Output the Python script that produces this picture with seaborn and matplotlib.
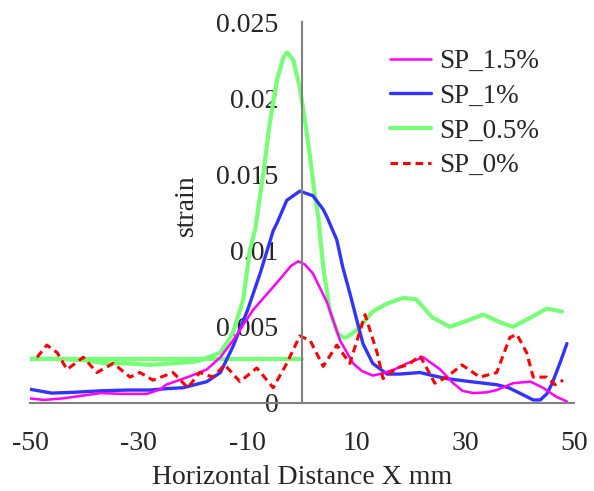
import numpy as np
import pandas as pd
import matplotlib
matplotlib.use("Agg")
import matplotlib.pyplot as plt
import seaborn as sns

# values
sp15_x = [-50, -47.5, -44, -40, -37, -33, -28.5, -26, -25, -21, -17.5, -15, -12.7, -9, -4.6, -2, -0.7, 0.5,
          2, 4.6, 7, 9.4, 11, 13, 14.3, 17, 19.3, 22.3, 25.4, 27.8, 29.5, 31.5, 34, 35.8, 38.8, 42, 44.3, 46.8, 48.7]
sp15_y = [0.0003, 0.0002, 0.0003, 0.0005, 0.00065, 0.0006, 0.0006, 0.0009, 0.0012, 0.0017, 0.0022, 0.003, 0.0041,
          0.0061, 0.0079, 0.009, 0.0093, 0.0091, 0.0085, 0.0066, 0.0041, 0.0026, 0.0021, 0.0018, 0.0019, 0.0022,
          0.0026, 0.003, 0.0022, 0.0013, 0.0008, 0.00065, 0.0007, 0.00085, 0.0013, 0.0014, 0.001, 0.0004, 0.0001]

sp1_x = [-50, -46, -42, -37, -32, -28, -24.5, -21.9, -17.5, -15, -12.7, -10, -7.7, -5.3, -4.6, -2.8, -0.4, 2,
         3.9, 4.6, 6.4, 7.5, 8.8, 10.1, 11.2, 13, 15.6, 18, 21.7, 24, 26.6, 31, 35.8, 38, 40, 42.5, 43.8, 45, 46,
         47.5, 48.7]
sp1_y = [0.0009, 0.00065, 0.0007, 0.0008, 0.00085, 0.00085, 0.00095, 0.001, 0.0014, 0.002, 0.0037, 0.0061, 0.0085,
         0.0113, 0.0118, 0.0133, 0.0139, 0.0136, 0.0127, 0.0122, 0.0107, 0.0089, 0.0072, 0.0054, 0.0039, 0.0026,
         0.0019, 0.0019, 0.002, 0.0018, 0.0016, 0.0014, 0.0012, 0.001, 0.00065, 0.0002, 0.0002, 0.0006, 0.0013,
         0.0027, 0.0039]

sp05_x = [-50, -45, -40, -36, -32, -28, -24, -20, -18.7, -15, -12.7, -10.8, -9.6, -8.6, -7.1, -5.9, -4.6, -3.4,
          -2.7, -1.6, -0.4, 0.6, 1.5, 2.4, 3, 3.9, 5.1, 6.5, 7.5, 8.2, 10.1, 13, 15.5, 18.6, 21, 24, 27.2, 30.3,
          33.3, 36.4, 38.8, 42, 45, 47.8]
sp05_y = [0.0029, 0.0029, 0.0028, 0.0026, 0.0026, 0.0025, 0.0026, 0.0027, 0.0028, 0.0033, 0.0046, 0.0068, 0.01,
          0.0114, 0.0151, 0.0184, 0.0212, 0.0227, 0.023, 0.0225, 0.0207, 0.0184, 0.0161, 0.0135, 0.0122, 0.0089,
          0.0061, 0.0046, 0.0043, 0.0043, 0.0048, 0.006, 0.0065, 0.0069, 0.0068, 0.0056, 0.005, 0.0054, 0.0058,
          0.0053, 0.005, 0.0056, 0.0062, 0.006]
sp05_flat_x = [-50, 0]
sp05_flat_y = [0.0029, 0.0029]

sp0_x = [-48.7, -46.9, -45, -43.2, -40.2, -37.7, -34.7, -31.6, -29.8, -27.4, -23.7, -21, -18.8, -16.4, -14.2,
         -11.4, -8.3, -5.3, -2.8, -0.4, 1.5, 3.9, 6.4, 8.8, 11.6, 13.8, 14.9, 17.4, 19.5, 21.7, 24.4, 26.6, 29.4,
         32.7, 35.8, 38.2, 39.5, 41.3, 42.5, 45, 46.5, 48]
sp0_y = [0.003, 0.0038, 0.0033, 0.0022, 0.003, 0.002, 0.0026, 0.0017, 0.002, 0.0015, 0.002, 0.001, 0.002, 0.0017,
         0.0025, 0.0014, 0.0023, 0.001, 0.0026, 0.0044, 0.0041, 0.0024, 0.0038, 0.0026, 0.0058, 0.0033, 0.0016,
         0.0023, 0.0025, 0.0031, 0.0013, 0.0017, 0.0025, 0.0017, 0.002, 0.0043, 0.0045, 0.0033, 0.0017, 0.0017,
         0.0012, 0.0015]

x_ticks = [-50, -30, -10, 10, 30, 50]
y_ticks = [0, 0.005, 0.01, 0.015, 0.02, 0.025]
y_tick_labels = ['0', '0.005', '0.01', '0.015', '0.02', '0.025']

sns.set_style('white')
plt.rcParams['font.family'] = ['Liberation Serif', 'DejaVu Serif']
plt.rcParams['axes.unicode_minus'] = False

fig = plt.figure(figsize=(5.94, 4.91), dpi=100)
ax = fig.add_axes([30 / 594, 1 - 403 / 491, 544 / 594, 381 / 491])

sns.lineplot(x=sp05_flat_x, y=sp05_flat_y, ax=ax, color='#77ff77', lw=3, label='_nolegend_', sort=False)
sns.lineplot(x=sp05_x, y=sp05_y, ax=ax, color='#77ff77', lw=3, label='SP_0.5%', sort=False)
sns.lineplot(x=sp1_x, y=sp1_y, ax=ax, color='#3333ff', lw=2.4, label='SP_1%', sort=False)
sns.lineplot(x=sp15_x, y=sp15_y, ax=ax, color='#ff00ff', lw=1.8, label='SP_1.5%', sort=False)
sns.lineplot(x=sp0_x, y=sp0_y, ax=ax, color='#ff0000', lw=2.2, label='SP_0%', sort=False,
             dashes=False, linestyle=(0, (2.5, 1.6)))

ax.set_xlim(-50, 50)
ax.set_ylim(0, 0.025)

# axis cross: y axis sits at x = 0
for side in ['top', 'right']:
    ax.spines[side].set_visible(False)
ax.spines['left'].set_position(('data', 0))
ax.spines['left'].set_color('#808080')
ax.spines['bottom'].set_color('#808080')
ax.spines['left'].set_linewidth(1.5)
ax.spines['bottom'].set_linewidth(1.5)

ax.set_xticks(x_ticks)
ax.set_yticks(y_ticks)
ax.set_yticklabels(y_tick_labels)
ax.tick_params(axis='x', direction='inout', length=13, width=1.3, color='#505050', pad=13.7, labelsize=20)
ax.tick_params(axis='y', direction='inout', length=13, width=1.3, color='#202020', pad=10.5, labelsize=20)

ax.set_xlabel('Horizontal Distance X mm', fontsize=20)
ax.set_ylabel('strain', fontsize=20)
ax.xaxis.set_label_coords(0.5, -0.163)
ax.yaxis.set_label_coords(0.31, 0.52)

handles, labels = ax.get_legend_handles_labels()
order = ['SP_1.5%', 'SP_1%', 'SP_0.5%', 'SP_0%']
hmap = dict(zip(labels, handles))
ax.legend([hmap[k] for k in order], order, loc='upper left', bbox_to_anchor=(390 / 594, 1 - 49 / 491),
          bbox_transform=fig.transFigure, frameon=False, fontsize=19.5, handlelength=1.5,
          handletextpad=0.3, labelspacing=0.36, borderpad=0, borderaxespad=0)

fig.savefig('out.png', dpi=100)
